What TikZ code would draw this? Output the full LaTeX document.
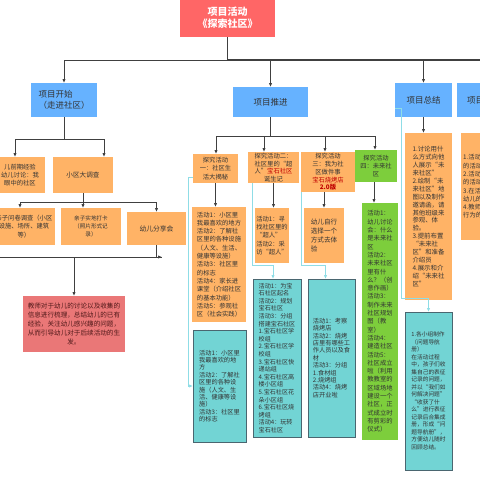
\documentclass[tikz,border=0pt]{standalone}
\usepackage{fontspec}
\setmainfont{Noto Sans CJK SC}
\usetikzlibrary{arrows.meta}
\definecolor{topred}{HTML}{FF6666}
\definecolor{blu}{HTML}{66B2FF}
\definecolor{org}{HTML}{FFB366}
\definecolor{grn}{HTML}{7DCE3C}
\definecolor{tea}{HTML}{72D4D4}
\definecolor{teab}{HTML}{4A6670}
\definecolor{tred}{HTML}{EA7777}
\definecolor{cyl}{HTML}{8FDDE6}
\definecolor{lncol}{HTML}{404040}
\definecolor{txt}{HTML}{333333}
\definecolor{rtxt}{HTML}{C00000}
\newcommand\myfs[2]{\fontsize{#1}{#2}\selectfont}
\newcommand\drawbox[7]{\node[#6, anchor=north west, minimum width={(#4)-(#2)}, minimum height={(#5)-(#3)}] (#1) at (#2,#3) {#7};}
\begin{document}
\begin{tikzpicture}[x=1pt,y=-1pt,
  base/.style={inner sep=0pt, outer sep=0pt, align=center, text=txt},
  topbox/.style={base, fill=topred, text=white, font=\myfs{10}{12}\bfseries},
  bluebox/.style={base, fill=blu, font=\myfs{8.5}{11}},
  obox/.style={base, fill=org, font=\myfs{6.3}{8.2}},
  gbox/.style={base, fill=grn, font=\myfs{6.3}{8.3}},
  tbox/.style={base, fill=tea, draw=teab, line width=0.9pt, font=\myfs{6}{7.5}},
  rbox/.style={base, fill=tred, text={rgb,255:red,80;green,25;blue,25}, font=\myfs{6.6}{9}},
  lnk/.style={draw=lncol, line width=0.8pt},
  bus/.style={draw=lncol, line width=1.2pt},
  arr/.style={lnk, -{Latex[length=4pt,width=3.4pt]}},
  carr/.style={draw=cyl, line width=0.9pt, -{Latex[length=4pt,width=3.4pt]}},
  ptxt/.style={inner sep=0pt, text=txt, align=center}
]
\useasboundingbox (0,0) rectangle (480,480);
\clip (0,0) rectangle (480,480);
\fill[white] (0,0) rectangle (480,480);

% level 0 and 1
\drawbox{top}{180}{-2}{275}{37}{topbox}{项目活动\\《探索社区》}
\drawbox{start}{31}{83}{97}{117}{bluebox,align=left}{项目开始\\（走进社区）}
\drawbox{push}{233}{87}{308}{117}{bluebox}{项目推进}
\drawbox{sum}{395}{83}{452}{117}{bluebox}{项目总结}
\drawbox{c5}{457}{83}{520}{117}{bluebox}{}
\node[ptxt, font=\myfs{8.5}{11}, anchor=west] (c5t) at (467,100) {项目};

% start branch
\drawbox{pre}{-20}{157}{45}{193}{obox}{}
\node[ptxt, font=\myfs{6.3}{8.2}] (pret) at (20,175) {儿前期经验\\幼儿讨论：我\\眼中的社区};
\drawbox{survey}{53}{157}{113}{193}{obox,font=\myfs{6.6}{8.2}}{小区大调查}
\drawbox{quest}{-15}{208}{55}{245}{obox}{}
\node[ptxt, font=\myfs{6.3}{8.2}] (questt) at (24,226.5) {亲子问卷调查（小区\\设施、场所、建筑\\等）};
\drawbox{field}{61}{208}{121}{245}{obox,font=\myfs{5.6}{8}}{亲子实地打卡\\（照片形式记\\录）}
\drawbox{share}{127}{212}{186}{245}{obox,font=\myfs{6.8}{8.2}}{幼儿分享会}
\drawbox{teacher}{23}{296}{125}{352}{rbox}{教师对于幼儿的讨论以及收集的\\信息进行梳理，总结幼儿的已有\\经验，关注幼儿感兴趣的问题，\\从而引导幼儿对于后续活动的生\\发。}

% push branch, level 2
\drawbox{b1}{193}{154}{238}{183}{obox}{探究活动\\一：社区生\\活大揭秘}
\drawbox{b2}{248}{152}{299}{183}{obox,font=\myfs{6.3}{7.6}}{探究活动二：\\社区里的“超\\人”\textcolor{rtxt}{宝石社区}\\诞生记}
\drawbox{b3}{301}{152}{355}{192}{obox,font=\myfs{6.3}{7.8}}{探究活动\\三：我为社\\区做件事\\\textcolor{rtxt}{宝石烧烤店}\\\textcolor{rtxt}{\bfseries 2.0版}}
\drawbox{g1}{355}{150}{397}{182}{gbox}{探究活动\\四：未来社\\区}

% level 3
\drawbox{a1}{192}{207}{246}{322}{obox,align=left,font=\myfs{6.3}{8.3}}{活动1：小区里\\我最喜欢的地方\\活动2：了解社\\区里的各种设施\\（人文、生活、\\健康等设施）\\活动3：社区里\\的标志\\活动4：家长进\\课堂（介绍社区\\的基本功能）\\活动5：参观社\\区（社会实践）}
\drawbox{a2}{255}{208}{289}{263}{obox,align=left}{活动1：寻\\找社区里的\\“超人”\\活动2：采\\访“超人”}
\drawbox{a3}{304}{208}{344}{263}{obox,align=left,font=\myfs{6.6}{9}}{幼儿自行\\选择一个\\方式去体\\验}
\drawbox{g2}{362}{203}{398}{440}{gbox,align=left}{活动1：\\幼儿讨论\\会：什么\\是未来社\\区\\活动2：\\未来社区\\里有什\\么？（创\\意作画）\\活动3：\\制作未来\\社区规划\\图（教\\室）\\活动4：\\建造社区\\活动5：\\社区成立\\啦（利用\\教教室的\\区域场地\\建设一个\\社区，正\\式成立时\\有剪彩的\\仪式）}

% teal boxes
\drawbox{t1}{193}{330}{246}{442}{tbox,align=left,font=\myfs{6.2}{7.4}}{活动1：小区里\\我最喜欢的地\\方\\活动2：了解社\\区里的各种设\\施（人文、生\\活、健康等设\\施）\\活动3：社区里\\的标志}
\drawbox{t2}{253}{279}{301}{437}{tbox,align=left,font=\myfs{6.1}{7.6}}{活动1：为宝\\石社区起名\\活动2：规划\\宝石社区\\活动3：分组\\搭建宝石社区\\1.宝石社区学\\校组\\2.宝石社区学\\校组\\3.宝石社区快\\递站组\\4.宝石社区高\\楼小区组\\5.宝石社区花\\朵小区组\\6.宝石社区烧\\烤组\\活动4：玩转\\宝石社区}
\drawbox{t3}{308}{279}{355}{437}{tbox,align=left,font=\myfs{6.2}{7.4}}{活动1：考察\\烧烤店\\活动2：烧烤\\店里有哪些工\\作人员以及食\\材\\活动3：分组\\1.食材组\\2.烧烤组\\活动4：烧烤\\店开业啦}

% summary branch
\drawbox{s1}{405}{133}{452}{300}{obox,align=left,font=\myfs{6.4}{7.9}}{1.讨论用什\\么方式向他\\人展示“未\\来社区”\\2.绘制“未\\来社区”地\\图以及制作\\邀请函，请\\其他班级来\\参观、体\\验。\\3.提前布置\\“未来社\\区”和准备\\介绍员\\4.展示和介\\绍“未来社\\区”}
\drawbox{t4}{405}{312}{452}{470}{tbox,align=left,font=\myfs{5.7}{7.5}}{1.各小组制作\\（问题导航\\册）\\在活动过程\\中，孩子们收\\集自己的表征\\记录的问题，\\并以“我们如\\何解决问题”\\“收获了什\\么”进行表征\\记录后合集成\\册，形成“问\\题导航册”，\\方便幼儿随时\\回顾总结。}
\drawbox{c5c}{461}{133}{520}{240}{obox}{}
\node[ptxt, align=left, font=\myfs{6.3}{8.3}, anchor=west] (c5ct) at (463,186.5) {1.活动\\的活动\\2.活动\\的活动\\3.在活\\幼儿的\\4.教师\\行为的};

% top bus
\coordinate (tb) at (227.5,60);
\draw[bus] (top.south) -- (tb);
\draw[lnk] (start.north |- tb) -- (tb);
\draw[bus] (tb) -- (c5.north |- tb);
\draw[arr] (start.north |- tb) -- (start.north);
\draw[arr] (push.north |- tb) -- (push.north);
\draw[arr] (sum.north |- tb) -- (sum.north);

% start children
\coordinate (sj) at (64,139);
\coordinate (sa) at (15,139);
\coordinate (sb) at (104,139);
\draw[lnk] (start.south) -- (sj);
\draw[lnk] (sa) -- (sb);
\draw[arr] (sa) -- (sa |- pre.north);
\draw[arr] (sb) -- (sb |- survey.north);

% survey children
\coordinate (va) at (20,202);
\coordinate (vb) at (156.5,202);
\draw[arr] (survey.south) -- (survey.south |- field.north);
\draw[lnk] (va) -- (vb);
\draw[arr] (va) -- (va |- quest.north);
\draw[arr] (vb) -- (share.north);

% share to teacher
\coordinate (wj) at (162,257);
\coordinate (wl) at (-5,257);
\coordinate (wt) at (74,257);
\draw[arr] (share.south) |- (wj);
\draw[lnk] (wl) -- (wj);
\draw[arr] (wt) -- (wt |- teacher.north);

% push children
\coordinate (pa) at (216,136);
\coordinate (pb) at (264,136);
\coordinate (pc) at (325,136);
\coordinate (pd) at (375,136);
\draw[lnk] (push.south) -- (push.south |- pa);
\draw[lnk] (pa) -- (pd);
\draw[arr] (pa) -- (pa |- b1.north);
\draw[arr] (pb) -- (pb |- b2.north);
\draw[arr] (pc) -- (pc |- b3.north);
\draw[arr] (pd) -- (pd |- g1.north);

% level 2 to 3
\draw[arr] (b1.south) -- (b1.south |- a1.north);
\draw[arr] (b2.south) -- (b2.south |- a2.north);
\draw[arr] (a3.north |- b3.south) -- (a3.north);
\draw[arr] ([xshift=-2pt]g1.south) -- ([xshift=-2pt]g1.south |- g2.north);
\draw[arr] (sum.south) -- (sum.south |- s1.north);

% cyan links
\draw[carr] ([yshift=6pt]b1.south west) -- ++(-5,0) |- (t1.west);
\draw[carr] ([xshift=4pt]b2.south west) -- ++(0,82) -| ([xshift=-4pt]t2.north);
\draw[carr] (b3.south west) -- ++(0,73) -| ([xshift=-6pt]t3.north);
\draw[carr] ([yshift=9pt]sum.south west) -- ++(6,0) -- ++(0,190) -| (t4.north);
\end{tikzpicture}
\end{document}
